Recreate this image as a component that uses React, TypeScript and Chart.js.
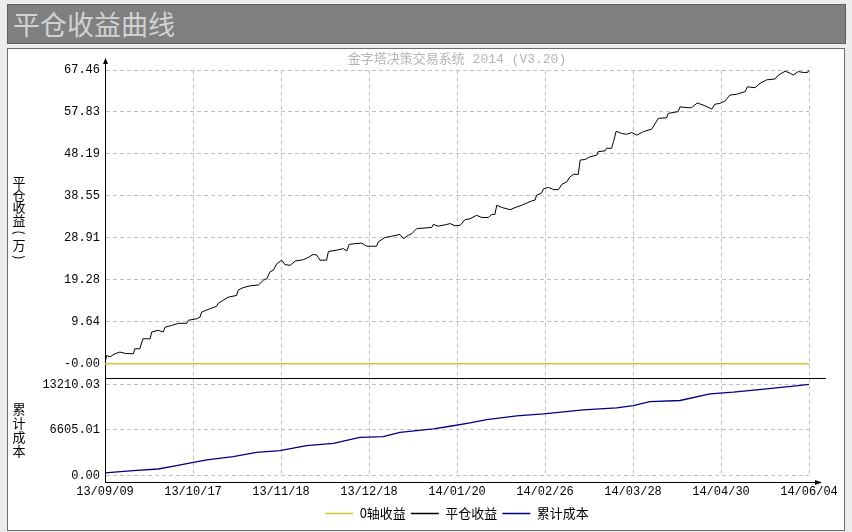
import React, { useEffect, useRef } from "react";
import { Chart, registerables } from "chart.js";

Chart.register(...registerables);

// ---- data ----
const dateLabels = ["13/09/09", "13/10/17", "13/11/18", "13/12/18", "14/01/20", "14/02/26", "14/03/28", "14/04/30", "14/06/04"];
const dateTickDays = [0, 23, 46, 69, 92, 115, 138, 161, 184];

const profitTickValues = [0, 9.64, 19.28, 28.91, 38.55, 48.19, 57.83, 67.46];
const profitTickLabels = ["-0.00", "9.64", "19.28", "28.91", "38.55", "48.19", "57.83", "67.46"];
const costTickValues = [0, 6605.01, 13210.03];
const costTickLabels = ["0.00", "6605.01", "13210.03"];

// trading-day index of each reading
const profitDays = [
  0, 0.4, 1.3, 1.8, 2.6, 3.9, 5.2, 7.4, 7.8, 9.1, 9.9, 11.8, 12.2, 13.9, 15.2, 15.7, 17.4, 19.2, 21.4, 21.8,
  24.0, 24.8, 25.3, 27.4, 29.2, 29.6, 32.2, 34.4, 34.8, 36.1, 37.9, 40.1, 41.4, 42.3, 43.1, 44.0, 44.9, 46.2,
  47.0, 48.4, 49.7, 51.8, 53.1, 54.4, 55.3, 56.2, 57.9, 58.4, 60.6, 62.3, 63.2, 63.8, 65.3, 67.1, 68.4, 71.0,
  71.4, 73.2, 74.9, 77.1, 78.0, 79.3, 80.2, 81.5, 85.4, 85.8, 87.1, 89.3, 90.2, 91.5, 92.8, 94.1, 95.4, 97.1,
  98.5, 100.2, 101.1, 101.9, 102.4, 103.7, 105.9, 107.6, 108.9, 110.2, 111.5, 112.4, 112.8, 114.1, 114.6,
  115.9, 117.2, 118.5, 119.4, 120.7, 121.5, 122.4, 123.7, 124.2, 125.5, 126.6, 128.5, 128.9, 130.7, 131.1,
  132.4, 132.9, 133.6, 135.0, 136.3, 137.7, 139.0, 140.7, 142.9, 144.6, 146.8, 147.2, 149.8, 150.3, 152.4,
  153.3, 154.8, 156.8, 158.6, 159.4, 160.7, 162.0, 163.3, 165.1, 167.3, 167.9, 169.9, 171.2, 172.9, 175.1,
  176.0, 177.8, 179.1, 179.9, 181.2, 182.5, 183.6, 184,
];
// 平仓收益 (万)
const profitValues = [
  0, 1.9, 1.6, 1.9, 2.3, 2.7, 2.4, 2.3, 3.45, 3.45, 5.75, 5.75, 7.3, 7.7, 7.3, 8.4, 8.8, 9.3, 9.3, 10.0,
  10.35, 10.7, 11.9, 12.65, 13.2, 13.9, 15.3, 15.7, 16.9, 17.5, 17.9, 18.1, 19.2, 19.55, 21.1, 21.5, 23.0, 23.8,
  22.8, 22.6, 23.6, 23.9, 24.4, 25.1, 25.0, 23.8, 23.8, 25.8, 26.1, 26.45, 25.9, 27.4, 27.6, 27.7, 27.0, 27.0,
  28.0, 29.0, 29.3, 29.7, 28.75, 29.5, 29.9, 31.05, 31.3, 32.0, 31.6, 32.0, 32.2, 31.7, 31.8, 33.1, 33.3, 34.1,
  33.6, 33.6, 34.3, 34.3, 36.4, 35.9, 35.4, 36.0, 36.4, 36.9, 37.4, 37.6, 38.7, 39.2, 40.2,
  40.5, 40.0, 40.0, 41.2, 41.8, 42.9, 43.5, 43.5, 46.8, 46.9, 47.5, 47.9, 48.7, 48.9, 49.5,
  49.5, 51.0, 53.4, 52.9, 52.7, 53.1, 52.5, 53.3, 53.9, 56.35, 56.5, 57.5, 57.9, 59.0, 58.8,
  58.8, 59.9, 59.25, 58.5, 59.6, 59.8, 60.3, 61.7, 61.9, 62.5, 63.6, 63.4, 64.4, 65.2, 65.4,
  66.3, 67.2, 66.7, 66.3, 67.1, 66.9, 66.9, 67.46,
];

const costDays = [
  0, 7.4, 13.9, 18.7, 23.1, 26.6, 33.5, 39.6, 45.7, 52.7, 59.7, 66.6, 72.7, 77.1, 85.8, 90.2, 95.4, 99.8,
  107.6, 114.6, 125.0, 133.7, 138.1, 142.4, 150.3, 158.1, 164.2, 172.9, 180.0, 184,
];
// 累计成本
const costValues = [
  350, 690, 930, 1410, 1890, 2240, 2720, 3350, 3600, 4330, 4660, 5530, 5640, 6260, 6760, 7140, 7630, 8110,
  8650, 8940, 9520, 9820, 10150, 10730, 10880, 11850, 12090, 12580, 12960, 13210.03,
];

const zeroDays = [0, 184];
const zeroValues = [0, 0];

const seriesNames = ["0轴收益", "平仓收益", "累计成本"];
const seriesColors = ["#d2c632", "#000000", "#000080"];

const chartTitle = "金字塔决策交易系统 2014 (V3.20)";
const pageTitle = "平仓收益曲线";
const profitAxisTitle = ["平", "仓", "收", "益", "(", "万", ")"];
const costAxisTitle = ["累", "计", "成", "本"];

const MONO = '"Liberation Mono", "DejaVu Sans Mono", monospace';
const CJK = '"Noto Sans CJK SC", "Noto Sans", sans-serif';

const decorPlugin = {
  id: "decor",
  beforeDatasetsDraw(chart: any) {
    const { ctx } = chart;
    const x = chart.scales.x;
    const y = chart.scales.y;
    const y2 = chart.scales.y2;
    const top = Math.round(y.getPixelForValue(profitTickValues[profitTickValues.length - 1])) + 0.5;
    const bottom = Math.round(y2.getPixelForValue(0)) + 0.5;
    ctx.save();
    ctx.strokeStyle = "#c0c0c0";
    ctx.lineWidth = 1;
    ctx.setLineDash([4, 3]);
    dateTickDays.forEach((d, i) => {
      if (i === 0) return;
      const px = Math.round(x.getPixelForValue(d)) + 0.5;
      ctx.beginPath();
      ctx.moveTo(px, top);
      ctx.lineTo(px, bottom);
      ctx.stroke();
    });
    ctx.restore();
  },
  afterDraw(chart: any) {
    const { ctx, chartArea } = chart;
    const y = chart.scales.y;
    const y2 = chart.scales.y2;
    ctx.save();
    // separator between panes
    const sep = Math.round(y.bottom) + 0.5;
    ctx.strokeStyle = "#000";
    ctx.lineWidth = 1;
    ctx.setLineDash([]);
    ctx.beginPath();
    ctx.moveTo(chartArea.left, sep);
    ctx.lineTo(chartArea.right + 17, sep);
    ctx.stroke();
    // y arrow
    const ax = Math.round(chartArea.left) + 0.5;
    ctx.beginPath();
    ctx.moveTo(ax, chartArea.top);
    ctx.lineTo(ax, chartArea.top - 3);
    ctx.stroke();
    ctx.fillStyle = "#000";
    ctx.beginPath();
    ctx.moveTo(ax, chartArea.top - 4);
    ctx.lineTo(ax - 2.5, chartArea.top + 2);
    ctx.lineTo(ax + 2.5, chartArea.top + 2);
    ctx.closePath();
    ctx.fill();
    // x arrow
    const by = Math.round(chartArea.bottom) + 0.5;
    ctx.beginPath();
    ctx.moveTo(chartArea.right, by);
    ctx.lineTo(chartArea.right + 11, by);
    ctx.stroke();
    ctx.beginPath();
    ctx.moveTo(chartArea.right + 13, by);
    ctx.lineTo(chartArea.right + 6, by - 2.5);
    ctx.lineTo(chartArea.right + 6, by + 2.5);
    ctx.closePath();
    ctx.fill();
    // chart title
    ctx.font = `13px ${MONO}, ${CJK}`;
    ctx.fillStyle = "#b4b4b4";
    ctx.textAlign = "center";
    ctx.textBaseline = "middle";
    ctx.fillText(chartTitle, (chartArea.left + chartArea.right) / 2, chartArea.top - 2);
    // stacked axis titles
    ctx.fillStyle = "#000";
    ctx.font = `13px ${CJK}`;
    const drawStack = (chars: string[], cy: number, pitch: number) => {
      const n = chars.length;
      let yy = cy - (n * pitch) / 2 + pitch / 2;
      chars.forEach((c) => {
        if (c === "(" || c === ")") {
          ctx.save();
          ctx.translate(11, yy);
          ctx.rotate(Math.PI / 2);
          ctx.fillText(c, 0, 0);
          ctx.restore();
        } else {
          ctx.fillText(c, 11, yy);
        }
        yy += pitch;
      });
    };
    drawStack(profitAxisTitle, (y.top + y.bottom) / 2, 12.5);
    drawStack(costAxisTitle, (y2.top + y2.bottom) / 2, 14);
    ctx.restore();
  },
};

export default function App() {
  const ref = useRef<HTMLCanvasElement>(null);
  useEffect(() => {
    if (!ref.current) return;
    const toPts = (xs: number[], ys: number[]) => xs.map((d, i) => ({ x: d, y: ys[i] }));
    const chart = new Chart(ref.current, {
      type: "line",
      data: {
        datasets: [
          { label: seriesNames[0], data: toPts(zeroDays, zeroValues), borderColor: seriesColors[0], backgroundColor: seriesColors[0], borderWidth: 1.5, pointRadius: 0, yAxisID: "y" },
          { label: seriesNames[1], data: toPts(profitDays, profitValues), borderColor: seriesColors[1], backgroundColor: seriesColors[1], borderWidth: 1, pointRadius: 0, yAxisID: "y" },
          { label: seriesNames[2], data: toPts(costDays, costValues), borderColor: seriesColors[2], backgroundColor: seriesColors[2], borderWidth: 1.3, pointRadius: 0, yAxisID: "y2" },
        ],
      },
      options: {
        animation: false,
        responsive: false,
        devicePixelRatio: 1,
        layout: { padding: { left: 0, right: 35, top: 13, bottom: 0 } },
        plugins: {
          title: { display: false },
          tooltip: { enabled: false },
          legend: {
            display: true,
            position: "bottom",
            fullSize: false,
            labels: {
              boxWidth: 28,
              boxHeight: 1.5,
              padding: 5,
              color: "#000",
              font: { size: 13, family: CJK },
              generateLabels: (ch: any) =>
                ch.data.datasets.map((ds: any, i: number) => ({
                  text: ds.label,
                  fillStyle: ds.borderColor,
                  strokeStyle: ds.borderColor,
                  lineWidth: 0,
                  hidden: false,
                  datasetIndex: i,
                  fontColor: "#000",
                })),
            },
          },
        },
        scales: {
          x: {
            type: "linear",
            min: 0,
            max: 184,
            afterBuildTicks: (s: any) => {
              s.ticks = dateTickDays.map((v) => ({ value: v }));
            },
            afterFit: (s: any) => {
              s.height = 20;
            },
            ticks: {
              autoSkip: false,
              maxRotation: 0,
              padding: 3,
              color: "#000",
              font: { size: 12, family: MONO },
              callback: (_v: any, i: number) => dateLabels[i],
            },
            grid: { display: false, drawTicks: false },
            border: { display: true, color: "#000", width: 1 },
          },
          y2: {
            type: "linear",
            position: "left",
            stack: "panes",
            stackWeight: 104,
            min: -961,
            max: 14186,
            afterBuildTicks: (s: any) => {
              s.ticks = costTickValues.map((v) => ({ value: v }));
            },
            afterFit: (s: any) => {
              s.width = 97;
            },
            ticks: {
              padding: 5,
              color: "#000",
              font: { size: 12, family: MONO },
              callback: (_v: any, i: number) => costTickLabels[i],
            },
            grid: { color: "#c0c0c0", lineWidth: 1, drawTicks: false },
            border: { display: true, color: "#000", width: 1, dash: [4, 3] },
          },
          y: {
            type: "linear",
            position: "left",
            stack: "panes",
            stackWeight: 315,
            min: -3.2,
            max: 69.3,
            afterBuildTicks: (s: any) => {
              s.ticks = profitTickValues.map((v) => ({ value: v }));
            },
            afterFit: (s: any) => {
              s.width = 97;
            },
            ticks: {
              padding: 5,
              color: "#000",
              font: { size: 12, family: MONO },
              callback: (_v: any, i: number) => profitTickLabels[i],
            },
            grid: { color: "#c0c0c0", lineWidth: 1, drawTicks: false },
            border: { display: true, color: "#000", width: 1, dash: [4, 3] },
          },
        },
      },
      plugins: [decorPlugin],
    } as any);
    return () => chart.destroy();
  }, []);

  return (
    <div style={{ position: "fixed", left: 0, top: 0, width: 852, height: 532, background: "#ececec", overflow: "hidden" }}>
      <div
        style={{
          position: "absolute",
          left: 7,
          top: 4,
          width: 839,
          height: 40,
          boxSizing: "border-box",
          background: "#808080",
          border: "1px solid #5e5e5e",
        }}
      >
        <div
          style={{
            position: "absolute",
            left: 5,
            top: 2,
            fontFamily: CJK,
            fontSize: 27,
            lineHeight: "34px",
            color: "#d2d2d2",
          }}
        >
          {pageTitle}
        </div>
      </div>
      <div
        style={{
          position: "absolute",
          left: 7,
          top: 48,
          width: 838,
          height: 483,
          boxSizing: "border-box",
          background: "#ffffff",
          border: "1px solid #6e6e6e",
        }}
      >
        <canvas ref={ref} width={836} height={481} style={{ display: "block", width: 836, height: 481 }} />
      </div>
    </div>
  );
}
